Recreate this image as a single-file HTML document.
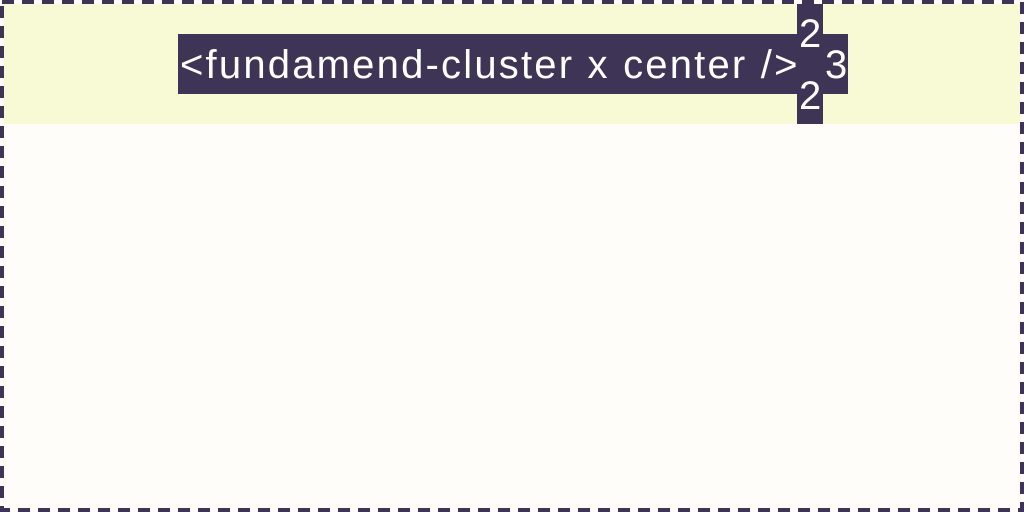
<!DOCTYPE html>
<html><head><style>
html,body{margin:0;padding:0;width:1024px;height:512px;overflow:hidden;background:#fefdfa;font-family:"Liberation Sans",sans-serif;}
.band{position:absolute;left:4px;top:4px;width:1016px;height:120px;background:#f8f9d5;}
.box{position:absolute;left:178px;top:34px;width:670px;height:60px;background:#3d3456;}
.col{position:absolute;left:797px;top:4px;width:26px;height:120px;background:#3d3456;}
.t{position:absolute;color:#fff;font-size:40px;line-height:1;white-space:nowrap;}
</style></head><body>
<div class="band"></div>
<div class="box"></div>
<div class="col"></div>
<div class="t" style="left:180px;top:45px;letter-spacing:2.2px;">&lt;fundamend-cluster x center /&gt;</div>
<div class="t" style="left:799px;top:14px;">2</div>
<div class="t" style="left:825px;top:45px;">3</div>
<div class="t" style="left:799px;top:76px;">2</div>
<svg style="position:absolute;left:0;top:0" width="1024" height="512">
<rect x="2" y="2" width="1020" height="508" fill="none" stroke="#3d3456" stroke-width="4" stroke-dasharray="12 8"/>
</svg>
</body></html>
